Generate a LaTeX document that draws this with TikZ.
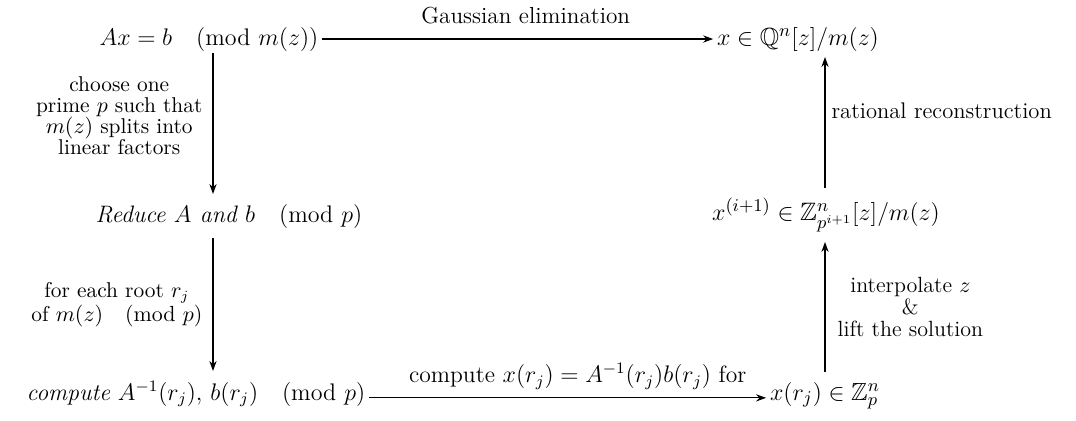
\documentclass[tikz,border=0pt]{standalone}
\usepackage{amsmath,amssymb}
\usetikzlibrary{arrows.meta}
\newcommand{\mpmod}[1]{\mkern18mu(\mathrm{mod}\,\,#1)}
\begin{document}
\begin{tikzpicture}[x=0.5pt,y=-0.5pt,
  main/.style={inner sep=0pt, outer sep=0pt, font=\fontsize{12.4}{15}\selectfont},
  mainsm/.style={inner sep=0pt, outer sep=0pt, font=\fontsize{11.9}{14}\selectfont},
  lab/.style={inner sep=0pt, font=\fontsize{11}{11}\selectfont, align=center},
  arr/.style={-{Stealth[length=5pt,width=3.6pt]}, line width=0.6pt}]
\useasboundingbox (0,0) rectangle (1076,420);
\node[main,anchor=base] (A) at (209,45) {$Ax = b \mpmod{m(z)}$};
\node[main,anchor=base] (Q) at (798,45) {$x \in \mathbb{Q}^n[z]/m(z)$};
\node[mainsm,anchor=base] (R) at (229,222) {\textit{Reduce $A$ and $b$}$\mpmod{p}$};
\node[main,anchor=base,font=\fontsize{12.6}{15}\selectfont] (X) at (826,220) {$x^{(i+1)} \in \mathbb{Z}^n_{p^{i+1}}[z]/m(z)$};
\node[mainsm,anchor=base] (C) at (196,400) {\textit{compute} $A^{-1}(r_j),\, b(r_j)\mpmod{p}$};
\node[main,anchor=base] (Z) at (825,400) {$x(r_j) \in \mathbb{Z}_p^n$};
\coordinate (cl) at (213,0);
\coordinate (cr) at (825,0);
\draw[arr, shorten <=2pt, shorten >=2pt] (A.east) -- (A.east -| Q.west)
  node[midway, above=7pt, xshift=4pt, lab, font=\fontsize{11.6}{12}\selectfont] {Gaussian elimination};
\draw[arr, shorten <=1pt, shorten >=5pt] (A.south -| cl) -- (R.north -| cl)
  node[midway, left=5pt, yshift=6pt, lab, font=\fontsize{10.7}{10.6}\selectfont] {choose one\\ prime $p$ such that\\ $m(z)$ splits into\\ linear factors};
\draw[arr, shorten <=5pt, shorten >=5pt] (R.south -| cl) -- (C.north -| cl)
  node[midway, left=5pt, lab, font=\fontsize{10.7}{11}\selectfont] {for each root $r_j$\\ of $m(z)\mpmod{p}$};
\draw[arr, shorten <=2pt, shorten >=2pt] ([yshift=-2pt]C.east) -- ([yshift=-2pt]C.east -| Z.west)
  node[midway, above=4pt, xshift=5pt, lab, font=\fontsize{11.8}{12}\selectfont] {compute $x(r_j) = A^{-1}(r_j)b(r_j)$ for};
\draw[arr, shorten <=5pt, shorten >=5pt] (Z.north -| cr) -- (X.south -| cr)
  node[midway, right=6pt, lab] {interpolate $z$\\ \&\\ lift the solution};
\draw[arr, shorten <=5pt, shorten >=3pt] (X.north -| cr) -- (Q.south -| cr)
  node[midway, right=3pt, yshift=7pt, lab, font=\fontsize{11.3}{11}\selectfont] {rational reconstruction};
\end{tikzpicture}
\end{document}
